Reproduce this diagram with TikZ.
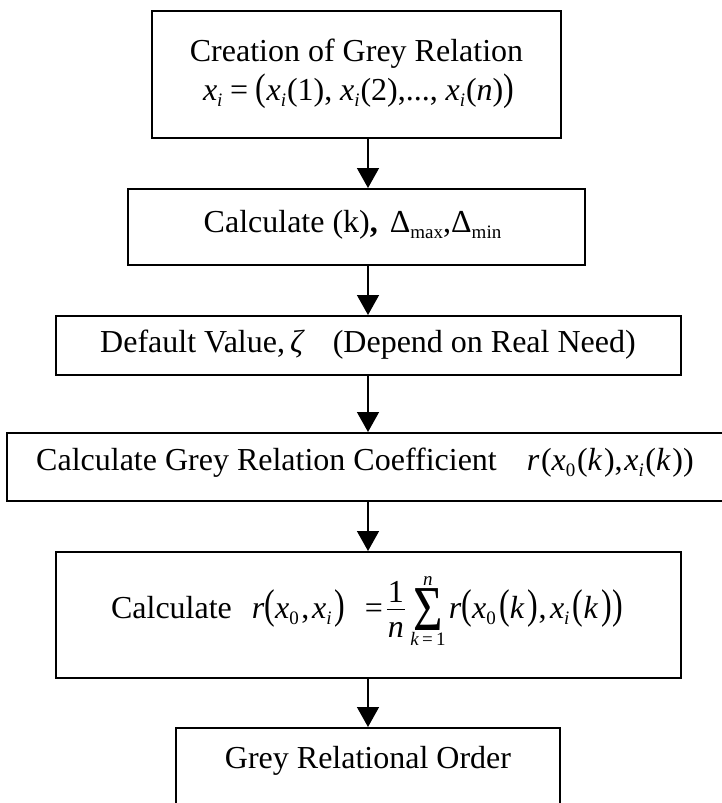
\documentclass[tikz,border=0pt]{standalone}
\usepackage{fontspec}
\setmainfont{Liberation Serif}
\usepackage{graphicx}
\usetikzlibrary{arrows.meta}

\newcommand\mi[1]{\textit{#1}}
\newcommand\sbs[1]{\raisebox{-6pt}{\fontsize{19}{19}\selectfont #1}}
\newcommand\bp[2]{\scalebox{1}[#1]{#2}}
\newcommand\sumnk{%
 \makebox[30pt]{\raisebox{-12pt}{\scalebox{1.58}[2.0]{Σ}}}%
 \llap{\makebox[30pt]{\raisebox{33pt}{\fontsize{19}{19}\selectfont\mi{n}}}}%
 \llap{\makebox[30pt]{\raisebox{-27pt}{\fontsize{19}{19}\selectfont\mi{k}\,=\,1}}}}
\newcommand\frcn{%
 \makebox[18pt]{\rule[8pt]{18pt}{1.3pt}}%
 \llap{\makebox[18pt]{\raisebox{16pt}{1}}}%
 \llap{\makebox[18pt]{\raisebox{-19pt}{\mi{n}}}}}

\begin{document}
\begin{tikzpicture}[x=1pt,y=-1pt,
  box/.style={draw=black,line width=2pt,rectangle,inner sep=0pt},
  txt/.style={inner sep=0pt,anchor=base,font=\fontsize{32}{38}\selectfont},
  arr/.style={line width=1.5pt,-{Triangle[width=22pt,length=20pt]}}]
\useasboundingbox (0,0) rectangle (722,803);
% boxes
\node[box,minimum width=409pt,minimum height=127pt] (b1) at (356.5,74.5) {};
\node[box,minimum width=457pt,minimum height=76pt] (b2) at (356.5,227) {};
\node[box,minimum width=625pt,minimum height=59pt] (b3) at (368.5,345.5) {};
\node[box,minimum width=718pt,minimum height=68pt] (b4) at (366,467) {};
\node[box,minimum width=625pt,minimum height=126pt] (b5) at (368.5,615) {};
\node[box,minimum width=384pt,minimum height=94pt] (b6) at (368,775) {};
% texts
\node[txt] (t1a) at (356.5,61) {Creation of Grey Relation};
\node[txt] (t1b) at (358.5,100) {\makebox[311pt][s]{\mi{x}\sbs{\mi{i}}\hfil=\hfil\bp{1.2}{(}\mi{x}\sbs{\mi{i}}\kern1pt(1),\hfil\mi{x}\sbs{\mi{i}}\kern1pt(2),...,\hfil\mi{x}\sbs{\mi{i}}\kern1pt(\mi{n})\bp{1.2}{)}}};
\node[txt] (t2) at (352.5,232) {Calculate (k)\textbf{,}\hspace{12pt}Δ\sbs{max},Δ\sbs{min}};
\node[txt] (t3) at (368,352) {Default Value,\kern5pt\mi{ζ}\hspace{28pt}(Depend on Real Need)};
\node[txt] (t4) at (365,470) {Calculate Grey Relation Coefficient\hspace{30pt}\makebox[167pt][s]{\mi{r}\hfil(\mi{x}\sbs{0}\hfil(\mi{k}\hfil),\hfil\mi{x}\sbs{\mi{i}}\hfil(\mi{k}\hfil))}};
\node[txt] (t5) at (367,618) {Calculate\hspace{20pt}\makebox[93pt][s]{\mi{r}\bp{1.3}{(}\mi{x}\sbs{0}\hfil,\hfil\mi{x}\sbs{\mi{i}}\hfil\bp{1.3}{)}}\hspace{20pt}=\hspace{4pt}\frcn\hspace{8pt}\sumnk\hspace{6pt}\makebox[174pt][s]{\mi{r}\bp{1.3}{(}\mi{x}\sbs{0}\hfil\bp{1.3}{(}\mi{k}\hfil\bp{1.3}{)},\hfil\mi{x}\sbs{\mi{i}}\hfil\bp{1.3}{(}\mi{k}\hfil\bp{1.3}{)}\bp{1.3}{)}}};
\node[txt] (t6) at (368,768) {Grey Relational Order};
% arrows
\coordinate (ax) at (368,0);
\draw[arr] (b1.south -| ax) -- (b2.north -| ax);
\draw[arr] (b2.south -| ax) -- (b3.north -| ax);
\draw[arr] (b3.south -| ax) -- (b4.north -| ax);
\draw[arr] (b4.south -| ax) -- (b5.north -| ax);
\draw[arr] (b5.south -| ax) -- (b6.north -| ax);
\end{tikzpicture}
\end{document}
